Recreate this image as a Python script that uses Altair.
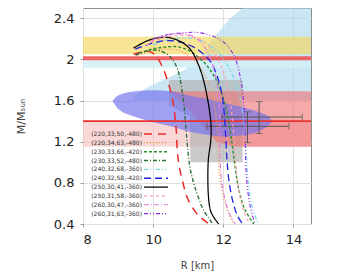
import altair as alt
import pandas as pd
import numpy as np

# ---------------- data ----------------
names = ["(220,33,50,-480)", "(220,34,63,-480)", "(230,33,66,-420)", "(230,33,52,-480)",
         "(240,32,68,-360)", "(240,32,58,-420)", "(250,30,41,-360)", "(250,31,58,-360)",
         "(260,30,47,-360)", "(260,31,63,-360)"]
colors = ["#e8292a", "#f0a050", "#2f8f2f", "#2a6e3a", "#80d4e8",
          "#1f1fdf", "#000000", "#ff9fb0", "#e07fe0", "#8a2be2"]
dashes = [[8, 6], [1, 2], [3, 2], [4, 2, 1, 2], [4, 2, 1, 2, 1, 2],
          [7, 4], [1, 0], [3, 3], [5, 2, 1, 2], [4, 2, 1, 2, 1, 2]]
widths = [1.5, 1.1, 1.3, 1.1, 1.1, 1.8, 1.5, 1.1, 1.1, 1.3]

R_220_33_50 = [9.44, 9.65, 9.85, 10.0, 10.15, 10.3, 10.45, 10.56, 10.62, 10.66, 10.69, 10.75, 10.85, 10.98, 11.2, 11.4, 11.6]
M_220_33_50 = [2.05, 2.07, 2.08, 2.06, 2.0, 1.9, 1.75, 1.6, 1.45, 1.3, 1.1, 0.95, 0.8, 0.65, 0.52, 0.45, 0.4]
R_220_34_63 = [9.5, 9.9, 10.3, 10.7, 11.05, 11.35, 11.6, 11.75, 11.82, 11.85, 11.88, 11.95, 12.1, 12.3]
M_220_34_63 = [2.03, 2.08, 2.1, 2.09, 2.03, 1.92, 1.75, 1.55, 1.35, 1.15, 0.95, 0.75, 0.55, 0.4]
R_230_33_66 = [9.6, 9.96, 10.34, 10.75, 11.15, 11.53, 11.8, 12.0, 12.12, 12.22, 12.3, 12.38, 12.48, 12.63, 12.87]
M_230_33_66 = [2.06, 2.1, 2.12, 2.12, 2.06, 1.94, 1.8, 1.62, 1.45, 1.25, 1.05, 0.85, 0.68, 0.53, 0.4]
R_230_33_52 = [9.5, 9.8, 10.1, 10.35, 10.55, 10.7, 10.8, 10.88, 10.93, 10.98, 11.05, 11.18, 11.4, 11.6, 11.7]
M_230_33_52 = [2.04, 2.08, 2.09, 2.06, 2.0, 1.9, 1.75, 1.55, 1.35, 1.15, 0.95, 0.77, 0.56, 0.45, 0.4]
R_240_32_68 = [10.0, 10.4, 10.8, 11.2, 11.6, 11.95, 12.25, 12.45, 12.57, 12.63, 12.67, 12.72, 12.82, 13.0]
M_240_32_68 = [2.14, 2.19, 2.21, 2.2, 2.14, 2.03, 1.86, 1.66, 1.45, 1.25, 1.0, 0.78, 0.57, 0.4]
R_240_32_58 = [9.49, 9.9, 10.3, 10.6, 10.95, 11.3, 11.63, 11.82, 11.95, 12.02, 12.06, 12.1, 12.15, 12.25, 12.39, 12.55]
M_240_32_58 = [2.1, 2.15, 2.18, 2.18, 2.15, 2.09, 1.98, 1.84, 1.68, 1.5, 1.3, 1.05, 0.85, 0.65, 0.49, 0.4]
R_250_30_41 = [9.44, 9.82, 10.15, 10.49, 10.85, 11.1, 11.3, 11.45, 11.58, 11.65, 11.64, 11.58, 11.56, 11.57, 11.62, 11.72, 11.87]
M_250_30_41 = [2.11, 2.18, 2.21, 2.21, 2.16, 2.08, 1.94, 1.78, 1.56, 1.36, 1.2, 1.05, 0.9, 0.7, 0.55, 0.47, 0.4]
R_250_31_58 = [9.8, 10.2, 10.6, 11.0, 11.4, 11.75, 12.0, 12.15, 12.25, 12.3, 12.35, 12.42, 12.55, 12.75]
M_250_31_58 = [2.14, 2.2, 2.23, 2.23, 2.18, 2.06, 1.88, 1.68, 1.45, 1.25, 1.0, 0.78, 0.56, 0.4]
R_260_30_47 = [9.9, 10.3, 10.7, 11.1, 11.4, 11.65, 11.8, 11.88, 11.9, 11.9, 11.92, 12.0, 12.15, 12.35]
M_260_30_47 = [2.17, 2.23, 2.25, 2.23, 2.15, 2.0, 1.8, 1.6, 1.4, 1.2, 0.95, 0.72, 0.52, 0.4]
R_260_31_63 = [10.0, 10.4, 10.9, 11.3, 11.75, 12.1, 12.35, 12.5, 12.58, 12.62, 12.63, 12.66, 12.75, 12.9]
M_260_31_63 = [2.2, 2.24, 2.26, 2.26, 2.22, 2.14, 2.0, 1.8, 1.58, 1.35, 1.1, 0.85, 0.6, 0.4]

curve_R = [R_220_33_50, R_220_34_63, R_230_33_66, R_230_33_52, R_240_32_68,
           R_240_32_58, R_250_30_41, R_250_31_58, R_260_30_47, R_260_31_63]
curve_M = [M_220_33_50, M_220_34_63, M_230_33_66, M_230_33_52, M_240_32_68,
           M_240_32_58, M_250_30_41, M_250_31_58, M_260_30_47, M_260_31_63]

# horizontal constraint bands
band_lo = [2.05, 1.99, 1.92, 1.15]
band_hi = [2.22, 2.03, 1.99, 1.40]
band_x0 = [8.0, 8.0, 8.0, 8.0]
band_colors = ["#f5d65c", "#ee4b4b", "#d3eff6", "#f6b8b8"]
band_opac = [0.65, 0.85, 0.9, 0.55]

# light-blue region: left boundary per mass
lb_M = [1.60, 1.66, 1.74, 1.82, 1.90, 2.0, 2.1, 2.2, 2.3, 2.4, 2.5]
lb_R = [9.40, 9.5, 9.9, 10.4, 10.9, 11.3, 11.5, 11.7, 11.95, 12.2, 12.55]

# salmon region: left boundary per mass
sa_M = [1.15, 1.2, 1.3, 1.4, 1.5, 1.6, 1.69]
sa_R = [12.3, 11.8, 11.55, 11.3, 11.05, 10.75, 10.45]

# grey region
gr_R = [10.45, 11.05, 11.06, 12.55]
gr_lo = [1.55, 1.45, 1.0, 1.0]
gr_hi = [1.80, 1.80, 1.80, 1.80]

# blue-violet region
bv_R = [8.85, 9.0, 9.5, 10.0, 10.5, 11.0, 11.5, 12.0, 12.5, 13.0, 13.3, 13.4]
bv_lo = [1.59, 1.52, 1.44, 1.39, 1.35, 1.30, 1.27, 1.25, 1.26, 1.30, 1.36, 1.40]
bv_hi = [1.60, 1.65, 1.69, 1.70, 1.69, 1.65, 1.62, 1.58, 1.54, 1.49, 1.44, 1.40]

# canonical 1.4 Msun line
line_M = [1.4]

# measurements with error bars
err_R = [13.02, 12.69]
err_M = [1.44, 1.35]
err_Rlo = [11.96, 11.53]
err_Rhi = [14.25, 13.87]
err_Mlo = [1.28, 1.19]
err_Mhi = [1.59, 1.49]

# ---------------- chart ----------------
X0, X1, Y0, Y1 = 8.0, 14.5, 0.4, 2.5
xs = alt.Scale(domain=[X0, X1], nice=False, zero=False)
ys = alt.Scale(domain=[Y0, Y1], nice=False, zero=False)

xgrid = [round(v, 1) for v in np.arange(8.0, 14.51, 0.5)]
ygrid = [round(v, 1) for v in np.arange(0.4, 2.51, 0.1)]

xaxis = alt.Axis(values=xgrid, labelExpr="datum.value % 1 === 0 ? datum.label : ''",
                 title="R [km]", grid=True)
yaxis = alt.Axis(values=ygrid,
                 labelExpr="round(datum.value*10) % 4 === 0 ? format(datum.value, '~g') : ''",
                 title="M/Mₛᵤₙ", grid=True)

layers = []

# light blue region
lb = pd.DataFrame({"M": lb_M, "R": lb_R, "R2": [X1] * len(lb_M)})
layers.append(alt.Chart(lb).mark_area(orient="horizontal", color="#a9d9ec", opacity=0.62).encode(
    y=alt.Y("M:Q", scale=ys, axis=yaxis), x=alt.X("R:Q", scale=xs, axis=xaxis), x2="R2:Q"))

# bands
for lo, hi, x0, c, o in zip(band_lo, band_hi, band_x0, band_colors, band_opac):
    d = pd.DataFrame({"R": [x0, X1], "lo": [lo, lo], "hi": [hi, hi]})
    layers.append(alt.Chart(d).mark_area(color=c, opacity=o).encode(
        x=alt.X("R:Q", scale=xs), y=alt.Y("lo:Q", scale=ys), y2="hi:Q"))

# grey region
gr = pd.DataFrame({"R": gr_R, "lo": gr_lo, "hi": gr_hi})
layers.append(alt.Chart(gr).mark_area(color="#b4b4b4", opacity=0.7).encode(
    x=alt.X("R:Q", scale=xs), y=alt.Y("lo:Q", scale=ys), y2="hi:Q"))

# salmon region
sa = pd.DataFrame({"M": sa_M, "R": sa_R, "R2": [X1] * len(sa_M)})
layers.append(alt.Chart(sa).mark_area(orient="horizontal", color="#f07070", opacity=0.6).encode(
    y=alt.Y("M:Q", scale=ys), x=alt.X("R:Q", scale=xs), x2="R2:Q"))

# blue-violet region
bv = pd.DataFrame({"R": bv_R, "lo": bv_lo, "hi": bv_hi})
layers.append(alt.Chart(bv).mark_area(color="#7474ee", opacity=0.68, interpolate="monotone").encode(
    x=alt.X("R:Q", scale=xs), y=alt.Y("lo:Q", scale=ys), y2="hi:Q"))

# 1.4 line
ld = pd.DataFrame({"M": line_M})
layers.append(alt.Chart(ld).mark_rule(color="#e83030", strokeWidth=1.8).encode(
    y=alt.Y("M:Q", scale=ys)))

# error bars
ed = pd.DataFrame({"R": err_R, "M": err_M, "Rlo": err_Rlo, "Rhi": err_Rhi,
                   "Mlo": err_Mlo, "Mhi": err_Mhi})
ec = "#555555"
layers.append(alt.Chart(ed).mark_rule(color=ec, strokeWidth=1).encode(
    x=alt.X("Rlo:Q", scale=xs), x2="Rhi:Q", y=alt.Y("M:Q", scale=ys)))
layers.append(alt.Chart(ed).mark_rule(color=ec, strokeWidth=1).encode(
    x=alt.X("R:Q", scale=xs), y=alt.Y("Mlo:Q", scale=ys), y2="Mhi:Q"))
for col in ["Rlo", "Rhi"]:
    layers.append(alt.Chart(ed).mark_tick(color=ec, orient="vertical", size=7, thickness=1).encode(
        x=alt.X(f"{col}:Q", scale=xs), y=alt.Y("M:Q", scale=ys)))
for col in ["Mlo", "Mhi"]:
    layers.append(alt.Chart(ed).mark_tick(color=ec, orient="horizontal", size=7, thickness=1).encode(
        x=alt.X("R:Q", scale=xs), y=alt.Y(f"{col}:Q", scale=ys)))

# M-R curves
rows = []
for n, rr, mm in zip(names, curve_R, curve_M):
    for i, (r, m) in enumerate(zip(rr, mm)):
        rows.append({"eos": n, "R": r, "M": m, "i": i})
cd = pd.DataFrame(rows)
leg = alt.Legend(title=None, orient="none", legendX=60, legendY=121, padding=0,
                 symbolType="M-1,0L5,0", symbolSize=64, labelFontSize=6, labelAlign="right",
                 labelOffset={"expr": "-11"}, labelColor="#333", rowPadding=0.85, labelLimit=200)
layers.append(alt.Chart(cd).mark_line(interpolate="cardinal").encode(
    x=alt.X("R:Q", scale=xs),
    y=alt.Y("M:Q", scale=ys),
    order="i:Q",
    color=alt.Color("eos:N", scale=alt.Scale(domain=names, range=colors), legend=leg),
    strokeDash=alt.StrokeDash("eos:N", scale=alt.Scale(domain=names, range=dashes), legend=leg),
    strokeWidth=alt.StrokeWidth("eos:N", scale=alt.Scale(domain=names, range=widths), legend=leg),
))

chart = alt.layer(*layers).properties(
    width=228, height=216,
    autosize=alt.AutoSizeParams(type="none"),
    padding={"left": 83, "top": 8, "right": 26, "bottom": 51},
).configure(font="DejaVu Sans").configure_view(
    stroke="#8c8c8c", strokeWidth=1
).configure_axis(
    domain=False, gridColor="#e0e0e0", gridWidth=1, tickColor="#999", tickSize=3,
    labelFontSize=13, labelColor="#222", titleFontSize=10, titleFontWeight="normal",
    titleColor="#444", labelPadding=6
).configure_axisX(titlePadding=14).configure_axisY(titlePadding=27, titleFontSize=11)

chart.save("out.html", embed_options={"renderer": "svg", "actions": False})
